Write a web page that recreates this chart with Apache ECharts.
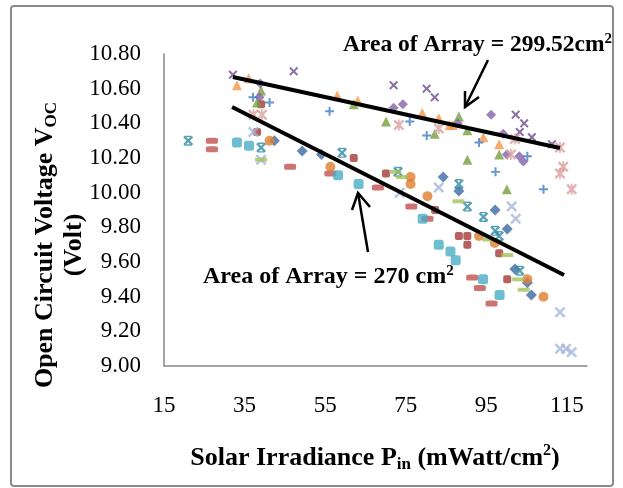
<!DOCTYPE html>
<html>
<head>
    <meta charset="UTF-8">
    <title>Open Circuit Voltage vs Solar Irradiance</title>
    <script src="https://cdn.jsdelivr.net/npm/echarts@6/dist/echarts.min.js"></script>
</head>
<body style="margin: 0; background: #fff;">
<div id="chart" style="width: 623px; height: 488px;"></div>
<script>
    // axis ticks
    var xTicks = [15, 35, 55, 75, 95, 115];
    var yTicks = [9.00, 9.20, 9.40, 9.60, 9.80, 10.00, 10.20, 10.40, 10.60, 10.80];

    // ---- area of array = 299.52 cm2 (upper group) ----
    var purpleCross = [[32.1, 10.68], [47.2, 10.70], [72.0, 10.62], [80.2, 10.60], [82.2, 10.55],
        [102.3, 10.45], [104.4, 10.40], [103.3, 10.35], [106.3, 10.32], [111.3, 10.28]];
    var orangeTri = [[33.1, 10.62], [36.0, 10.66], [58.0, 10.56], [63.1, 10.53], [79.1, 10.46],
        [83.2, 10.43], [85.9, 10.39], [86.7, 10.39], [94.3, 10.32], [98.2, 10.28]];
    var greenTri = [[39.1, 10.59], [38.1, 10.52], [62.1, 10.51], [70.1, 10.41], [82.2, 10.34],
        [88.2, 10.44], [90.3, 10.36], [90.3, 10.19], [98.2, 10.22], [100.1, 10.02]];
    var purpleDiamond = [[38.9, 10.63], [38.7, 10.55], [72.0, 10.49], [74.3, 10.51], [96.2, 10.45],
        [87.9, 10.40], [99.2, 10.34], [100.1, 10.22], [103.2, 10.21], [104.2, 10.18]];
    var pinkStar = [[37.2, 10.45], [39.3, 10.45], [73.3, 10.39], [83.2, 10.37], [101.1, 10.22],
        [102.1, 10.31], [113.3, 10.26], [114.1, 10.15], [113.3, 10.11], [116.2, 10.02]];
    var bluePlus = [[37.1, 10.55], [41.2, 10.52], [56.1, 10.47], [76.0, 10.41], [80.2, 10.33],
        [93.2, 10.29], [105.2, 10.21], [97.3, 10.12], [109.2, 10.02]];

    // ---- area of array = 270 cm2 (lower group) ----
    var blueDiamond = [[42.4, 10.30], [49.3, 10.24], [54.1, 10.22], [84.3, 10.09], [88.2, 10.01],
        [97.2, 9.90], [100.2, 9.79], [102.1, 9.56], [105.2, 9.48], [106.2, 9.41]];
    var redDash = [[26.9, 10.30], [26.9, 10.25], [46.3, 10.15], [56.3, 10.11], [68.1, 10.03],
        [76.4, 9.92], [80.4, 9.85], [91.5, 9.51], [93.4, 9.45], [96.3, 9.36]];
    var darkRedSquare = [[39.1, 10.51], [38.1, 10.35], [62.1, 10.20], [70.1, 10.11], [82.3, 9.90],
        [88.2, 9.75], [90.3, 9.75], [90.3, 9.70], [98.2, 9.65], [100.2, 9.50]];
    var tealSquare = [[33.1, 10.29], [36.1, 10.27], [58.2, 10.10], [63.3, 10.05], [79.2, 9.85],
        [83.2, 9.70], [86.1, 9.66], [87.4, 9.61], [94.2, 9.50], [98.3, 9.41]];
    var orangeCircle = [[41.2, 10.30], [56.3, 10.15], [76.2, 10.09], [76.2, 10.05], [80.4, 9.98],
        [93.2, 9.75], [97.1, 9.71], [105.2, 9.50], [109.2, 9.40]];
    var tealStar = [[21.0, 10.30], [39.1, 10.26], [59.2, 10.23], [73.1, 10.12], [88.2, 10.05],
        [90.3, 9.92], [94.3, 9.86], [97.2, 9.78], [98.2, 9.75], [103.3, 9.55]];
    var lightBlueCross = [[37.2, 10.35], [39.1, 10.19], [73.5, 10.00], [83.2, 10.03], [101.3, 9.92],
        [102.3, 9.85], [113.3, 9.31], [113.3, 9.10], [114.8, 9.10], [116.2, 9.08]];
    var lightGreenDash = [[39.1, 10.19], [72.4, 10.12], [74.1, 10.09], [88.1, 9.95], [95.5, 9.73],
        [100.2, 9.64], [102.9, 9.50], [104.3, 9.44]];

    // linear trend lines (end points)
    var trendUpper = [[32.1, 10.667], [113.3, 10.258]];
    var trendLower = [[31.9, 10.494], [114.3, 9.525]];

    var serif = '"Liberation Serif", "Times New Roman", serif';

    // marker shapes that echarts does not have
    var CROSS = 'path://M0,1.6L1.6,0L5,3.4L8.4,0L10,1.6L6.6,5L10,8.4L8.4,10L5,6.6L1.6,10L0,8.4L3.4,5Z';
    var STAR = CROSS + 'M4.2,0L5.8,0L5.8,10L4.2,10Z';
    var STAR2 = CROSS + 'M1.5,0L8.5,0L8.5,1.4L1.5,1.4Z M1.5,8.6L8.5,8.6L8.5,10L1.5,10Z';
    var PLUS = 'path://M3.9,0L6.1,0L6.1,3.9L10,3.9L10,6.1L6.1,6.1L6.1,10L3.9,10L3.9,6.1L0,6.1L0,3.9L3.9,3.9Z';

    function dots(name, data, symbol, size, color) {
        return {
            name: name,
            type: 'scatter',
            data: data,
            symbol: symbol,
            symbolSize: size,
            itemStyle: {color: color},
            z: 2
        };
    }

    function trend(data) {
        return {
            type: 'line',
            data: data,
            symbol: 'none',
            lineStyle: {color: '#000', width: 4},
            z: 5
        };
    }

    var chartDom = document.getElementById('chart');
    var myChart = echarts.init(chartDom);
    var option;

    option = {
        backgroundColor: '#fff',
        animation: false,
        grid: {left: 164, right: 36, top: 54, bottom: 122},
        xAxis: {
            type: 'value',
            min: 15,
            max: 120,
            interval: 20,
            axisLine: {lineStyle: {color: '#868686', width: 1.5}},
            axisTick: {show: false},
            splitLine: {show: false},
            axisLabel: {
                color: '#000',
                fontFamily: serif,
                fontSize: 23,
                margin: 28,
                showMaxLabel: false,
                formatter: function (v) {
                    return xTicks.indexOf(v) >= 0 ? String(v) : '';
                }
            }
        },
        yAxis: {
            type: 'value',
            min: 9,
            max: 10.8,
            interval: 0.2,
            axisLine: {show: true, lineStyle: {color: '#868686', width: 1.5}},
            axisTick: {show: false},
            splitLine: {show: false},
            axisLabel: {
                color: '#000',
                fontFamily: serif,
                fontSize: 23,
                margin: 23,
                formatter: function (v) {
                    return v.toFixed(2);
                }
            }
        },
        series: [
            dots('Blue diamond', blueDiamond, 'diamond', 11, '#3C6AA4'),
            dots('Red dash', redDash, 'roundRect', [12, 6], '#C0504D'),
            dots('Dark red square', darkRedSquare, 'roundRect', 8, '#A23A37'),
            dots('Teal square', tealSquare, 'roundRect', 10, '#4BACC6'),
            dots('Orange circle', orangeCircle, 'circle', 10, '#DE7E2E'),
            dots('Teal star', tealStar, STAR2, 10, '#2F8BA3'),
            dots('Light blue cross', lightBlueCross, CROSS, 11, '#A5B8DC'),
            dots('Light green dash', lightGreenDash, 'rect', [12, 4], '#A2C15C'),
            dots('Orange triangle', orangeTri, 'triangle', 10, '#F79646'),
            dots('Green triangle', greenTri, 'triangle', 10, '#77A03F'),
            dots('Purple diamond', purpleDiamond, 'diamond', 10, '#8462AA'),
            dots('Purple cross', purpleCross, CROSS, 9, '#6B4D8D'),
            dots('Pink star', pinkStar, STAR, 11, '#D9A09E'),
            dots('Blue plus', bluePlus, PLUS, 9, '#3F7CC4'),
            trend(trendUpper),
            trend(trendLower)
        ],
        graphic: [
            {
                type: 'rect',
                shape: {x: 11, y: 6, width: 602, height: 480, r: 3},
                style: {fill: 'none', stroke: '#8a8a8a', lineWidth: 2},
                z: 0
            },
            {
                type: 'text',
                x: 60,
                y: 245,
                rotation: Math.PI / 2,
                style: {
                    text: 'Open Circuit Voltage V{sub|OC}\n(Volt)',
                    align: 'center',
                    verticalAlign: 'middle',
                    fill: '#000',
                    font: 'bold 26px ' + serif,
                    lineHeight: 29,
                    rich: {
                        sub: {fontSize: 17, fontWeight: 'bold', fontFamily: serif, verticalAlign: 'bottom', lineHeight: 15}
                    }
                }
            },
            {
                type: 'text',
                x: 375,
                y: 458,
                style: {
                    text: 'Solar Irradiance P{sub|in} (mWatt/cm{sup|2})',
                    align: 'center',
                    verticalAlign: 'middle',
                    fill: '#000',
                    font: 'bold 26px ' + serif,
                    lineHeight: 30,
                    rich: {
                        sub: {fontSize: 17, fontWeight: 'bold', fontFamily: serif, verticalAlign: 'bottom', lineHeight: 15},
                        sup: {fontSize: 16, fontWeight: 'bold', fontFamily: serif, verticalAlign: 'top', lineHeight: 16}
                    }
                }
            },
            {
                type: 'text',
                x: 343,
                y: 45,
                style: {
                    text: 'Area of Array = 299.52cm{sup|2}',
                    align: 'left',
                    verticalAlign: 'middle',
                    fill: '#000',
                    font: 'bold 23.5px ' + serif,
                    lineHeight: 26,
                    rich: {
                        sup: {fontSize: 15, fontWeight: 'bold', fontFamily: serif, verticalAlign: 'top', lineHeight: 14}
                    }
                }
            },
            {
                type: 'text',
                x: 203,
                y: 277,
                style: {
                    text: 'Area of Array = 270 cm{sup|2}',
                    align: 'left',
                    verticalAlign: 'middle',
                    fill: '#000',
                    font: 'bold 24px ' + serif,
                    lineHeight: 26,
                    rich: {
                        sup: {fontSize: 15, fontWeight: 'bold', fontFamily: serif, verticalAlign: 'top', lineHeight: 14}
                    }
                }
            },
            // arrow to the upper trend line
            {
                type: 'polyline',
                shape: {points: [[488, 60], [465, 107]]},
                style: {stroke: '#000', lineWidth: 2.5, fill: 'none'}
            },
            {
                type: 'polyline',
                shape: {points: [[479, 97], [465, 107], [465, 91]]},
                style: {stroke: '#000', lineWidth: 2.5, fill: 'none'}
            },
            // arrow to the lower trend line
            {
                type: 'polyline',
                shape: {points: [[368, 252], [358, 193]]},
                style: {stroke: '#000', lineWidth: 2.5, fill: 'none'}
            },
            {
                type: 'polyline',
                shape: {points: [[352, 210], [358, 193], [370, 207]]},
                style: {stroke: '#000', lineWidth: 2.5, fill: 'none'}
            }
        ]
    };

    myChart.setOption(option);
</script>
</body>
</html>
